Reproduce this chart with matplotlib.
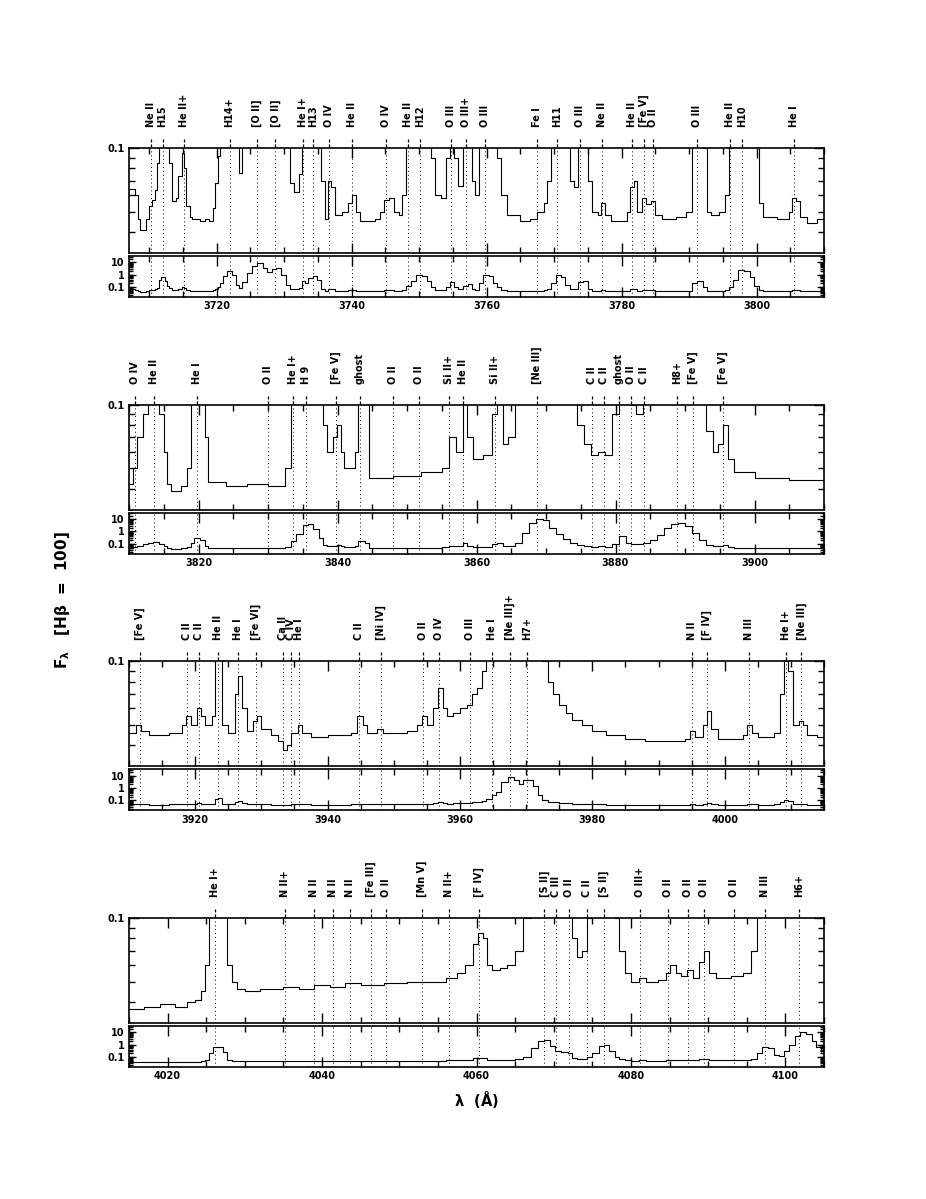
import matplotlib
matplotlib.use('Agg')
import matplotlib.pyplot as plt
import matplotlib.transforms as mtransforms
from matplotlib.ticker import MultipleLocator, FixedLocator, NullFormatter, FixedFormatter

plt.rcParams['font.family'] = 'DejaVu Sans'
plt.rcParams['font.weight'] = 'bold'

# ---------------- data ----------------
xlims = [(3707, 3810), (3810, 3910), (3910, 4015), (4015, 4105)]

wl1 = [3707.0, 3707.9, 3708.3, 3708.6, 3709.5, 3709.9, 3710.4, 3710.8, 3711.1, 3711.4,
       3711.8, 3712.3, 3712.6, 3712.9, 3713.3, 3714.0, 3714.3, 3714.8, 3715.2, 3715.5,
       3716.0, 3716.3, 3717.5, 3718.3, 3718.8, 3719.5, 3719.8, 3720.2, 3720.5, 3721.0,
       3721.5, 3722.3, 3722.8, 3723.3, 3723.8, 3724.5, 3725.3, 3726.0, 3726.8, 3727.5,
       3728.2, 3728.8, 3729.6, 3730.3, 3730.9, 3731.5, 3732.2, 3732.6, 3733.1, 3733.6,
       3734.2, 3734.9, 3735.5, 3736.0, 3736.5, 3737.0, 3737.6, 3738.5, 3739.5, 3740.0,
       3740.6, 3741.2, 3743.5, 3744.2, 3744.8, 3745.5, 3746.2, 3747.0, 3747.5, 3748.0,
       3748.8, 3749.6, 3750.4, 3751.2, 3751.8, 3752.4, 3753.3, 3754.0, 3754.5, 3755.2,
       3755.8, 3756.5, 3757.2, 3757.8, 3758.3, 3758.9, 3759.5, 3760.3, 3761.0, 3761.6,
       3762.2, 3763.0, 3765.0, 3766.5, 3767.5, 3768.5, 3769.0, 3769.5, 3770.3, 3771.0,
       3771.6, 3772.3, 3773.0, 3773.5, 3774.3, 3775.0, 3775.6, 3776.5, 3777.0, 3777.6,
       3778.5, 3780.8, 3781.3, 3781.8, 3782.3, 3783.0, 3783.6, 3784.4, 3785.0, 3786.0,
       3788.0, 3789.5, 3790.5, 3791.2, 3792.0, 3792.6, 3793.3, 3794.5, 3795.3, 3795.9,
       3796.5, 3797.3, 3798.2, 3799.0, 3799.6, 3800.3, 3801.0, 3803.0, 3804.8, 3805.3,
       3805.9, 3806.5, 3807.5, 3809.0, 3810.0]
fx1 = [0.064, 0.060, 0.046, 0.041, 0.046, 0.053, 0.057, 0.063, 0.085, 0.35,
       0.62, 0.30, 0.12, 0.085, 0.056, 0.058, 0.074, 0.095, 0.080, 0.053,
       0.047, 0.046, 0.045, 0.046, 0.045, 0.052, 0.068, 0.092, 0.2, 0.8,
       1.9, 0.9, 0.15, 0.076, 0.25, 1.5, 5.0, 8.3, 3.5, 1.6,
       3.0, 3.6, 1.0, 0.15, 0.068, 0.062, 0.075, 0.3, 0.2, 0.5,
       0.8, 0.4, 0.07, 0.046, 0.07, 0.065, 0.048, 0.05, 0.055, 0.06,
       0.05, 0.045, 0.046, 0.05, 0.057, 0.058, 0.05, 0.048, 0.06, 0.12,
       0.3, 0.9, 0.85, 0.3, 0.09, 0.06, 0.058, 0.09, 0.25, 0.09,
       0.066, 0.12, 0.18, 0.07, 0.06, 0.2, 0.9, 0.8, 0.2, 0.09,
       0.06, 0.048, 0.045, 0.046, 0.05, 0.055, 0.07, 0.2, 1.0, 0.7,
       0.15, 0.07, 0.065, 0.25, 0.3, 0.07, 0.05, 0.048, 0.055, 0.048,
       0.045, 0.05, 0.065, 0.07, 0.05, 0.058, 0.054, 0.056, 0.048, 0.046,
       0.047, 0.05, 0.2, 0.28, 0.1, 0.05, 0.048, 0.05, 0.06, 0.1,
       0.4, 2.3, 2.0, 0.6, 0.12, 0.055, 0.047, 0.046, 0.05, 0.058,
       0.056, 0.047, 0.044, 0.046, 0.046]

wl2 = [3810.0, 3810.6, 3811.2, 3812.0, 3812.8, 3813.5, 3814.3, 3815.0, 3815.5, 3816.0,
       3817.5, 3818.3, 3818.9, 3819.4, 3820.2, 3820.9, 3821.4, 3824.0, 3827.0, 3830.0,
       3832.5, 3833.3, 3834.0, 3835.0, 3835.8, 3836.5, 3837.3, 3837.9, 3838.5, 3839.3,
       3839.9, 3840.5, 3841.0, 3842.5, 3843.0, 3844.0, 3844.6, 3848.0, 3852.0, 3855.0,
       3856.0, 3857.0, 3858.0, 3858.7, 3859.5, 3861.0, 3862.3, 3863.0, 3863.8, 3864.5,
       3865.5, 3866.5, 3867.5, 3868.5, 3869.5, 3870.5, 3871.5, 3872.5, 3873.5, 3874.5,
       3875.5, 3876.5, 3877.5, 3878.5, 3879.5, 3880.5, 3881.5, 3882.3, 3883.0, 3884.0,
       3885.0, 3886.0, 3887.0, 3888.0, 3889.0, 3890.0, 3891.0, 3892.0, 3893.0, 3894.0,
       3894.8, 3895.5, 3896.2, 3897.0, 3900.0, 3905.0, 3910.0]
fx2 = [0.042, 0.05, 0.07, 0.09, 0.12, 0.13, 0.09, 0.06, 0.042, 0.039,
       0.041, 0.05, 0.12, 0.3, 0.2, 0.07, 0.043, 0.041, 0.042, 0.041,
       0.05, 0.15, 0.6, 3.5, 4.0, 1.5, 0.3, 0.08, 0.06, 0.07,
       0.08, 0.06, 0.05, 0.06, 0.15, 0.12, 0.045, 0.046, 0.048, 0.05,
       0.07, 0.06, 0.12, 0.07, 0.055, 0.058, 0.09, 0.11, 0.065, 0.07,
       0.12, 0.8, 5.0, 10.0, 8.0, 2.0, 0.6, 0.25, 0.12, 0.08,
       0.065, 0.058, 0.06, 0.058, 0.09, 0.4, 0.12, 0.1, 0.09, 0.12,
       0.2, 0.5, 2.0, 4.0, 5.0, 3.0, 0.8, 0.2, 0.075, 0.06,
       0.065, 0.08, 0.055, 0.048, 0.045, 0.044, 0.044]

wl3 = [3910.0, 3911.0, 3911.8, 3913.0, 3916.0, 3918.0, 3918.6, 3919.3, 3920.2, 3920.9,
       3921.5, 3922.5, 3923.0, 3923.5, 3924.1, 3925.0, 3926.0, 3926.5, 3927.1, 3927.8,
       3928.8, 3929.4, 3930.0, 3931.5, 3932.5, 3933.2, 3933.8, 3934.5, 3935.5, 3936.2,
       3937.5, 3940.0, 3943.5, 3944.5, 3945.3, 3946.0, 3947.5, 3948.3, 3950.0, 3952.0,
       3953.5, 3954.3, 3955.0, 3956.0, 3956.7, 3957.4, 3958.0, 3959.0, 3960.0, 3961.0,
       3961.8, 3962.6, 3963.3, 3964.0, 3964.8, 3965.5, 3966.2, 3967.2, 3968.2, 3968.9,
       3969.6, 3970.3, 3971.1, 3971.8, 3972.4, 3973.3, 3974.0, 3975.0, 3976.0, 3977.0,
       3978.5, 3980.0, 3982.0, 3985.0, 3988.0, 3994.0, 3994.7, 3995.5, 3996.7, 3997.3,
       3997.9, 3999.0, 4002.8, 4003.4, 4004.1, 4005.0, 4007.5, 4008.4, 4009.0, 4009.6,
       4010.3, 4011.2, 4011.8, 4012.5, 4014.0, 4015.0]
fx3 = [0.046, 0.05, 0.047, 0.045, 0.046, 0.05, 0.055, 0.05, 0.06, 0.055,
       0.05, 0.055, 0.12, 0.15, 0.05, 0.046, 0.07, 0.085, 0.06, 0.047,
       0.052, 0.055, 0.048, 0.045, 0.042, 0.038, 0.040, 0.046, 0.05, 0.046,
       0.044, 0.045, 0.046, 0.055, 0.05, 0.046, 0.048, 0.046, 0.046, 0.047,
       0.05, 0.055, 0.05, 0.06, 0.075, 0.06, 0.055, 0.057, 0.06, 0.062,
       0.07, 0.075, 0.09, 0.12, 0.25, 0.5, 3.0, 8.0, 5.0, 2.0,
       4.5, 5.0, 1.5, 0.3, 0.1, 0.08, 0.07, 0.062, 0.057, 0.053,
       0.05, 0.047, 0.045, 0.043, 0.042, 0.043, 0.047, 0.044, 0.05, 0.058,
       0.048, 0.043, 0.045, 0.05, 0.046, 0.044, 0.046, 0.07, 0.1, 0.09,
       0.05, 0.052, 0.05, 0.045, 0.044, 0.044]

wl4 = [4015.0, 4017.0, 4019.0, 4021.0, 4022.5, 4023.5, 4024.3, 4024.8, 4025.3, 4025.9,
       4026.6, 4027.2, 4027.7, 4028.3, 4029.0, 4030.0, 4032.0, 4035.0, 4037.0, 4039.0,
       4041.0, 4043.0, 4045.0, 4048.0, 4051.0, 4054.0, 4056.0, 4057.5, 4058.5, 4059.5,
       4060.2, 4060.8, 4061.4, 4062.0, 4063.0, 4064.0, 4065.0, 4066.0, 4067.0, 4068.0,
       4068.8, 4069.5, 4070.2, 4071.0, 4071.8, 4072.4, 4073.0, 4073.6, 4074.3, 4075.0,
       4075.8, 4076.5, 4077.2, 4077.9, 4078.5, 4079.2, 4080.0, 4081.0, 4082.0, 4083.5,
       4084.5, 4085.1, 4085.8, 4086.5, 4087.3, 4088.0, 4088.8, 4089.4, 4090.1, 4091.0,
       4093.0, 4094.5, 4095.5, 4096.3, 4097.0, 4097.8, 4098.5, 4099.2, 4099.8, 4100.5,
       4101.2, 4101.9, 4102.7, 4103.4, 4104.0, 4104.6, 4105.0]
fx4 = [0.037, 0.038, 0.039, 0.038, 0.04, 0.041, 0.045, 0.06, 0.2, 0.6,
       0.6, 0.25, 0.06, 0.05, 0.046, 0.045, 0.046, 0.047, 0.046, 0.048,
       0.047, 0.049, 0.048, 0.049, 0.05, 0.05, 0.052, 0.055, 0.06, 0.075,
       0.085, 0.08, 0.06, 0.057, 0.058, 0.06, 0.07, 0.1, 0.5, 2.0,
       2.5, 0.8, 0.3, 0.25, 0.2, 0.08, 0.065, 0.07, 0.1, 0.2,
       0.8, 1.0, 0.3, 0.1, 0.07, 0.055, 0.05, 0.052, 0.05, 0.051,
       0.055, 0.06, 0.055, 0.053, 0.057, 0.052, 0.062, 0.07, 0.055, 0.052,
       0.053, 0.055, 0.07, 0.2, 0.6, 0.5, 0.15, 0.12, 0.3, 1.0,
       5.0, 11.0, 8.0, 2.0, 0.6, 0.3, 0.3]

lines1 = [3710.2, 3711.97, 3715.2, 3721.9, 3726.0, 3728.7, 3732.8, 3734.3, 3736.7, 3740.0,
          3745.1, 3748.4, 3750.2, 3754.7, 3757.0, 3759.8, 3767.4, 3770.4, 3773.9, 3777.05,
          3781.5, 3783.3, 3784.7, 3791.2, 3796.0, 3797.8, 3805.6]
labels1 = ['Ne II', 'H15', 'He II+', 'H14+', '[O II]', '[O II]', 'He I+', 'H13', 'O IV', 'He II',
           'O IV', 'He II', 'H12', 'O III', 'O III+', 'O III', 'Fe I', 'H11', 'O III', 'Ne II',
           'He II', '[Fe V]', 'O II', 'O III', 'He II', 'H10', 'He I']

lines2 = [3810.8, 3813.6, 3819.8, 3830.0, 3833.6, 3835.4, 3839.8, 3843.2, 3848.05, 3851.7,
          3856.0, 3858.1, 3862.6, 3868.75, 3876.6, 3878.3, 3880.5, 3882.3, 3884.1, 3888.8,
          3891.2, 3895.5]
labels2 = ['O IV', 'He II', 'He I', 'O II', 'He I+', 'H 9', '[Fe V]', 'ghost', 'O II', 'O II',
           'Si II+', 'He II', 'Si II+', '[Ne III]', 'C II', 'C II', 'ghost', 'O II', 'C II', 'H8+',
           '[Fe V]', '[Fe V]']

lines3 = [3911.6, 3918.8, 3920.5, 3923.4, 3926.54, 3929.2, 3933.3, 3934.5, 3935.7, 3944.8,
          3948.0, 3954.4, 3956.9, 3961.5, 3964.8, 3967.6, 3970.15, 3995.0, 3997.3, 4003.6,
          4009.3, 4011.6]
labels3 = ['[Fe V]', 'C II', 'C II', 'He II', 'He I', '[Fe VI]', 'Ca II', 'C IV', 'He I', 'C II',
           '[Ni IV]', 'O II', 'O IV', 'O III', 'He I', '[Ne III]+', 'H7+', 'N II', '[F IV]', 'N III',
           'He I+', '[Ne III]']

lines4 = [4026.2, 4035.2, 4038.9, 4041.4, 4043.6, 4046.3, 4048.3, 4052.9, 4056.4, 4060.3,
          4068.8, 4070.3, 4072.0, 4074.3, 4076.5, 4081.2, 4084.8, 4087.4, 4089.5, 4093.3,
          4097.35, 4101.75]
labels4 = ['He I+', 'N II+', 'N II', 'N II', 'N II', '[Fe III]', 'O II', '[Mn V]', 'N II+', '[F IV]',
           '[S II]', 'C III', 'O II', 'C II', '[S II]', 'O III+', 'O II', 'O II', 'O II', 'O II',
           'N III', 'H6+']

panels = [(wl1, fx1, lines1, labels1), (wl2, fx2, lines2, labels2),
          (wl3, fx3, lines3, labels3), (wl4, fx4, lines4, labels4)]

# ---------------- figure ----------------
W, H = 926.0, 1199.0
fig = plt.figure(figsize=(W / 100, H / 100), dpi=100)
left, width = 129 / W, 695 / W
tops = [148, 404.7, 661.4, 918]
hu, gap, hl = 105, 3, 41

for k, (wl, fx, lw_, lab) in enumerate(panels):
    top = tops[k]
    axu = fig.add_axes([left, 1 - (top + hu) / H, width, hu / H])
    axl = fig.add_axes([left, 1 - (top + hu + gap + hl) / H, width, hl / H])
    for ax in (axu, axl):
        ax.step(wl, fx, where='post', color='black', lw=0.8)
        for l in lw_:
            ax.axvline(l, color='black', ls=(0, (1, 3)), lw=0.7)
        ax.set_xlim(xlims[k])
        ax.set_yscale('log')
        ax.xaxis.set_major_locator(MultipleLocator(20))
        ax.xaxis.set_minor_locator(MultipleLocator(5))
        ax.tick_params(which='both', direction='in', top=True, right=True, width=1.0)
        ax.tick_params(which='major', length=7)
        ax.tick_params(which='minor', length=4)
        ax.tick_params(labelsize=7, pad=3)
        for s in ax.spines.values():
            s.set_linewidth(1.2)

    axu.set_ylim(0.0318, 0.1)
    axu.yaxis.set_major_locator(FixedLocator([0.1]))
    axu.yaxis.set_major_formatter(FixedFormatter(['0.1']))
    axu.yaxis.set_minor_locator(FixedLocator([0.04, 0.05, 0.06, 0.07, 0.08, 0.09]))
    axu.yaxis.set_minor_formatter(NullFormatter())
    axu.set_xticklabels([])

    axl.set_ylim(0.015, 34)
    axl.yaxis.set_major_locator(FixedLocator([0.1, 1, 10]))
    axl.yaxis.set_major_formatter(FixedFormatter(['0.1', '1', '10']))
    axl.yaxis.set_minor_locator(FixedLocator([m * 10.0 ** e for e in (-2, -1, 0, 1)
                                              for m in range(2, 10)]))
    axl.yaxis.set_minor_formatter(NullFormatter())
    axl.tick_params(axis='y', which='major', length=5)
    axl.tick_params(axis='y', which='minor', length=3)

    trans = mtransforms.blended_transform_factory(axu.transData, axu.transAxes)
    for l, t in zip(lw_, lab):
        axu.plot([l, l], [1.01, 1.09], transform=trans, color='black', lw=0.9,
                 ls=(0, (2.5, 1.5)), clip_on=False)
        axu.text(l, 1.2, t, transform=trans, rotation=90, ha='center', va='bottom',
                 fontsize=7, fontweight='bold')

fig.text(62 / W, 1 - 600 / H, r'F$_\mathbf{\lambda}$   [H$\mathbf{\beta}$  =  100]',
         rotation=90, ha='center', va='center', fontsize=11, fontweight='bold')
fig.text(476 / W, 1 - 1100 / H, r'$\mathbf{\lambda}$  ($\mathbf{\AA}$)',
         ha='center', va='center', fontsize=10.5, fontweight='bold')

fig.savefig('out.png', dpi=100)
